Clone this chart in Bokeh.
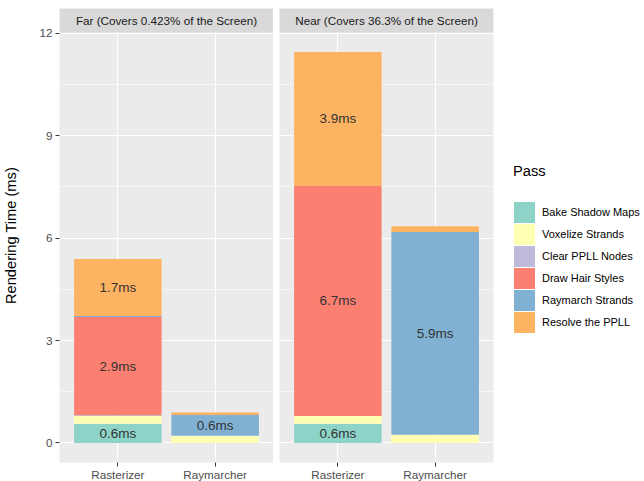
import numpy as np
from bokeh.plotting import figure
from bokeh.models import (ColumnDataSource, FactorRange, Range1d, SingleIntervalTicker,
                          Grid, Label, Legend, LegendItem, BoxAnnotation)
from bokeh.layouts import row
from bokeh.embed import file_html
from bokeh.resources import INLINE
from bokeh.core.properties import value

# ---------------- data ----------------
categories = ["Rasterizer", "Raymarcher"]
panel_titles = ["Far (Covers 0.423% of the Screen)", "Near (Covers 36.3% of the Screen)"]
pass_names = ["Bake Shadow Maps", "Voxelize Strands", "Clear PPLL Nodes",
              "Draw Hair Styles", "Raymarch Strands", "Resolve the PPLL"]
pass_keys = ["bake", "voxelize", "clear", "draw", "raymarch", "resolve"]
pass_colors = ["#8DD3C7", "#FFFFB3", "#BEBADA", "#FB8072", "#80B1D3", "#FDB462"]

far_bake = [0.56, 0.00]
far_voxelize = [0.23, 0.21]
far_clear = [0.02, 0.00]
far_draw = [2.88, 0.00]
far_raymarch = [0.03, 0.61]
far_resolve = [1.67, 0.07]

near_bake = [0.56, 0.00]
near_voxelize = [0.23, 0.24]
near_clear = [0.00, 0.00]
near_draw = [6.74, 0.00]
near_raymarch = [0.00, 5.94]
near_resolve = [3.92, 0.17]

y_tick_interval = 3
label_threshold = 0.5

far_data = [far_bake, far_voxelize, far_clear, far_draw, far_raymarch, far_resolve]
near_data = [near_bake, near_voxelize, near_clear, near_draw, near_raymarch, near_resolve]

# ---------------- style / layout ----------------
FONT = "Liberation Sans"
FRAME_W = 214
STRIP_H = 24
PANEL_H = 430
TOP_B = 8
LEFT_B = 58
GAP = 6
RIGHT_B = 150

totals = [sum(col[i] for col in d) for d in (far_data, near_data) for i in range(len(categories))]
ymax = max(totals)
pad = 0.05 * ymax
Y0, Y1 = -pad, ymax + pad
px_per_unit = PANEL_H / (Y1 - Y0)
YTOP = Y1 + STRIP_H / px_per_unit


def make_panel(data, title, left_border, with_axis, right_border=0):
    cols = dict(cat=categories)
    for k, v in zip(pass_keys, data):
        cols[k] = v
    src = ColumnDataSource(cols)
    p = figure(x_range=FactorRange(factors=categories, range_padding=0.1),
               y_range=Range1d(Y0, YTOP),
               frame_width=FRAME_W, frame_height=PANEL_H + STRIP_H,
               min_border_left=left_border, min_border_right=right_border,
               min_border_top=TOP_B, min_border_bottom=0,
               y_axis_location="left" if with_axis else None,
               toolbar_location=None, output_backend="svg",
               background_fill_color="#EBEBEB", border_fill_color="white",
               outline_line_color=None)
    p.vbar_stack(pass_keys, x="cat", width=0.9, source=src,
                 fill_color=pass_colors, line_color=None)

    # value labels at segment centres
    lx, ly, lt = [], [], []
    for i, c in enumerate(categories):
        bottom = 0.0
        for vals in data:
            v = vals[i]
            if v >= label_threshold:
                lx.append(c)
                ly.append(bottom + v / 2)
                lt.append(f"{v:.1f}ms")
            bottom += v
    lsrc = ColumnDataSource(dict(x=lx, y=ly, text=lt))
    p.text(x="x", y="y", text="text", source=lsrc, text_align="center",
           text_baseline="middle", text_font=value(FONT),
           text_font_size=value("13.5px"), text_color="#333333")

    # facet strip
    p.add_layout(BoxAnnotation(bottom=Y1, fill_color="#D9D9D9", fill_alpha=1.0,
                               line_color=None))
    p.add_layout(Label(x=1.0, y=(Y1 + YTOP) / 2, text=title, text_align="center",
                       text_baseline="middle", text_font=FONT,
                       text_font_size="11.7px", text_color="#1A1A1A"))

    # x axis
    p.xaxis.axis_line_color = None
    p.xaxis.major_tick_in = 0
    p.xaxis.major_tick_out = 4
    p.xaxis.major_tick_line_color = "#333333"
    p.xaxis.major_label_standoff = 1
    p.xaxis.major_label_text_font = FONT
    p.xaxis.major_label_text_font_size = "11.7px"
    p.xaxis.major_label_text_color = "#4D4D4D"
    p.xgrid.grid_line_color = "white"
    p.xgrid.grid_line_width = 1.1

    # horizontal grid (major + minor)
    p.center = [r for r in p.center if not (isinstance(r, Grid) and r.dimension == 1)]
    ticker = SingleIntervalTicker(interval=y_tick_interval, num_minor_ticks=2)
    if with_axis:
        p.yaxis.ticker = ticker
        p.yaxis.axis_line_color = None
        p.yaxis.major_tick_in = 0
        p.yaxis.major_tick_out = 4
        p.yaxis.minor_tick_line_color = None
        p.yaxis.major_tick_line_color = "#333333"
        p.yaxis.major_label_standoff = 3
        p.yaxis.major_label_text_font = FONT
        p.yaxis.major_label_text_font_size = "11.7px"
        p.yaxis.major_label_text_color = "#4D4D4D"
        p.yaxis.axis_label = "Rendering Time (ms)"
        p.yaxis.axis_label_text_font = FONT
        p.yaxis.axis_label_text_font_size = "14.67px"
        p.yaxis.axis_label_text_font_style = "normal"
        p.yaxis.axis_label_text_color = "#000000"
        p.yaxis.axis_label_standoff = 17
    yg = Grid(dimension=1, ticker=ticker, level="underlay")
    yg.grid_line_color = "white"
    yg.grid_line_width = 1.1
    yg.minor_grid_line_color = "white"
    yg.minor_grid_line_width = 0.55
    yg.bounds = (Y0, Y1)
    p.add_layout(yg)
    return p


p1 = make_panel(far_data, panel_titles[0], LEFT_B, True)
p2 = make_panel(near_data, panel_titles[1], GAP, False, RIGHT_B)

# legend keys: proxy bars with no drawable (NaN) extent, used only for the legend swatches
proxy_src = ColumnDataSource(dict(x=[categories[0]], top=np.array([np.nan]),
                                  bottom=np.array([np.nan])))
proxies = [p2.vbar(x="x", top="top", bottom="bottom", width=0.5, source=proxy_src,
                   fill_color=c, line_color=c, line_width=3.4, line_join="miter")
           for c in pass_colors]

legend = Legend(items=[LegendItem(label=value(n), renderers=[r])
                       for n, r in zip(pass_names, proxies)],
                location=(20, 129), orientation="vertical",
                title="Pass", title_text_font=FONT, title_text_font_size="14.67px",
                title_text_font_style="normal", title_text_color="#000000",
                title_standoff=22,
                label_text_font=FONT, label_text_font_size="11px",
                label_text_color="#000000", label_standoff=7,
                glyph_width=22, glyph_height=22, spacing=0, label_height=20,
                padding=0, margin=0, border_line_color=None,
                background_fill_alpha=0)
p2.add_layout(legend, "right")

layout = row(p1, p2)

with open("out.html", "w") as f:
    f.write(file_html(layout, INLINE, title="Rendering Time"))
